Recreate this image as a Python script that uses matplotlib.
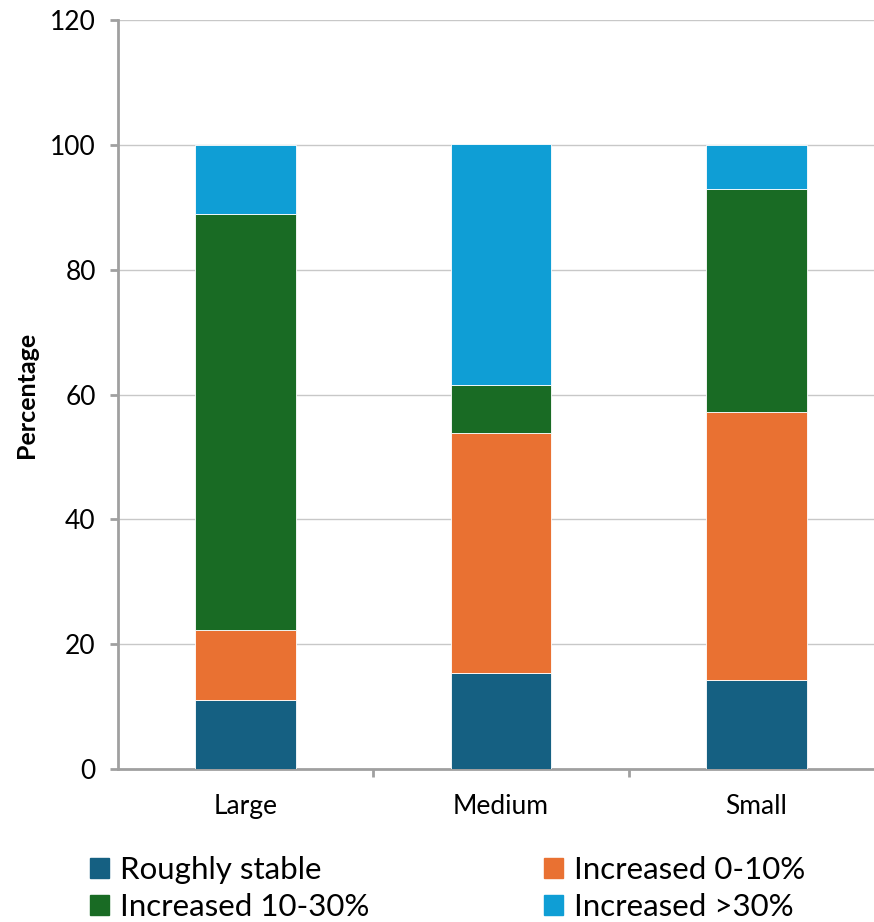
import matplotlib.pyplot as plt
from matplotlib.patches import Patch

plt.rcParams['font.family'] = ['Lato', 'DejaVu Sans']

# доли ответов по размеру компании, %
categories = ['Large', 'Medium', 'Small']
roughly_stable = [11.1, 15.4, 14.3]
increased_0_10 = [11.1, 38.5, 42.9]
increased_10_30 = [66.7, 7.7, 35.7]
increased_over_30 = [11.1, 38.5, 7.1]

series = [
    ('Roughly stable', roughly_stable, '#156082'),
    ('Increased 0-10%', increased_0_10, '#E97132'),
    ('Increased 10-30%', increased_10_30, '#196B24'),
    ('Increased >30%', increased_over_30, '#0F9ED5'),
]

fig = plt.figure(figsize=(8.74, 9.22), dpi=100)
ax = fig.add_axes([118 / 874, 153 / 922, 766 / 874, 749 / 922])

x = list(range(len(categories)))
bottom = [0.0] * len(categories)
for name, vals, color in series:
    ax.bar(x, vals, width=0.395, bottom=bottom, color=color,
           edgecolor='#ffffff', linewidth=0.6, zorder=3)
    bottom = [b + v for b, v in zip(bottom, vals)]

ax.set_xlim(-0.5, 2.5)
ax.set_ylim(0, 120)
ax.set_yticks(range(0, 121, 20))
ax.set_xticks(x)
ax.set_xticklabels(categories)
ax.set_xticks([0.5, 1.5, 2.5], minor=True)

ax.grid(axis='y', color='#c8c8c8', linewidth=1.0, zorder=0)
for side in ['top', 'right']:
    ax.spines[side].set_visible(False)
for side in ['left', 'bottom']:
    ax.spines[side].set_color('#a0a0a0')
    ax.spines[side].set_linewidth(2.0)

ax.tick_params(axis='y', length=6, width=2, color='#a0a0a0',
               labelsize=19, pad=10)
ax.tick_params(axis='x', which='major', length=0, labelsize=19, pad=18)
ax.tick_params(axis='x', which='minor', length=6, width=2, color='#a0a0a0')

ax.set_ylabel('Percentage', fontsize=18, fontweight='bold')
ax.yaxis.set_label_coords(-0.105, 0.5)

# легенда построчно: matplotlib заполняет столбцы, поэтому меняем порядок
handles = [Patch(color=c, label=n) for n, _, c in series]
order = [0, 2, 1, 3]
fig.legend([handles[i] for i in order], [handles[i].get_label() for i in order],
           ncol=2, loc='upper left', bbox_to_anchor=(0.103, 0.072),
           frameon=False, fontsize=22.5, handlelength=0.6, handleheight=0.6,
           handletextpad=0.35, columnspacing=5.6, labelspacing=0.3,
           borderpad=0, borderaxespad=0)

fig.savefig('out.png', dpi=100)
